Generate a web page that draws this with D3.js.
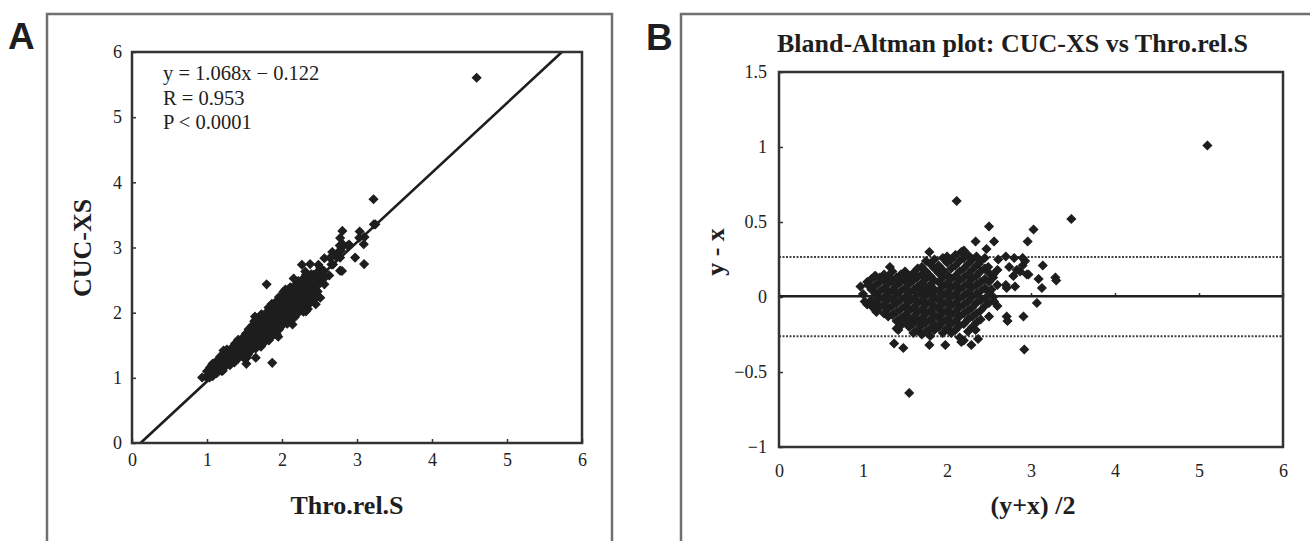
<!DOCTYPE html>
<html>
<head>
<meta charset="utf-8">
<script src="https://cdn.jsdelivr.net/npm/d3@7"></script>
<style>
    body { margin: 0; background: #fff; }
    svg { display: block; }
</style>
</head>
<body>
<div id="chart"></div>
<script>
// Bland-Altman data: [mean (y+x)/2, difference y-x]
// dense core, one column per mean value
const coreColumns = [
    [1.00, [0.02]],
    [1.05, [0.10, -0.05]],
    [1.10, [0.12, 0.05, -0.02, -0.06]],
    [1.15, [0.14, 0.08, 0.02, -0.04, -0.09]],
    [1.20, [0.13, 0.10, 0.04, -0.01, -0.07]],
    [1.25, [0.15, 0.12, 0.06, 0.00, -0.05, -0.11]],
    [1.30, [0.14, 0.09, 0.03, -0.02, -0.08, -0.13]],
    [1.35, [0.17, 0.11, 0.05, -0.01, -0.06, -0.12]],
    [1.40, [0.13, 0.08, 0.02, -0.04, -0.10, -0.16, -0.21]],
    [1.45, [0.15, 0.10, 0.04, -0.02, -0.08, -0.14, -0.19]],
    [1.50, [0.17, 0.12, 0.06, 0.00, -0.06, -0.12, -0.17]],
    [1.55, [0.14, 0.09, 0.03, -0.03, -0.09, -0.15, -0.20]],
    [1.60, [0.16, 0.11, 0.05, -0.01, -0.07, -0.13, -0.18, -0.24]],
    [1.65, [0.19, 0.13, 0.07, 0.02, -0.04, -0.10, -0.16, -0.22]],
    [1.70, [0.20, 0.15, 0.09, 0.04, -0.02, -0.08, -0.14, -0.19, -0.25]],
    [1.75, [0.24, 0.17, 0.12, 0.06, 0.01, -0.05, -0.11, -0.17, -0.23]],
    [1.80, [0.22, 0.14, 0.08, 0.03, -0.03, -0.09, -0.15, -0.21, -0.26]],
    [1.85, [0.25, 0.19, 0.11, 0.05, 0.00, -0.06, -0.12, -0.18, -0.22]],
    [1.90, [0.21, 0.16, 0.10, 0.04, -0.02, -0.08, -0.14, -0.20]],
    [1.95, [0.26, 0.18, 0.13, 0.07, 0.01, -0.05, -0.11, -0.17, -0.24]],
    [2.00, [0.27, 0.23, 0.15, 0.09, 0.03, -0.03, -0.09, -0.15, -0.21]],
    [2.05, [0.25, 0.19, 0.12, 0.06, 0.00, -0.06, -0.12, -0.18, -0.24]],
    [2.10, [0.28, 0.21, 0.14, 0.08, 0.02, -0.04, -0.10, -0.16, -0.22]],
    [2.15, [0.24, 0.17, 0.11, 0.05, -0.01, -0.07, -0.13, -0.19, -0.27]],
    [2.20, [0.31, 0.26, 0.19, 0.13, 0.07, 0.01, -0.05, -0.11, -0.18, -0.29]],
    [2.25, [0.28, 0.22, 0.15, 0.09, 0.03, -0.03, -0.09, -0.15, -0.23]],
    [2.30, [0.25, 0.18, 0.12, 0.06, 0.00, -0.07, -0.13, -0.20]],
    [2.35, [0.27, 0.21, 0.14, 0.08, 0.02, -0.04, -0.11, -0.17]],
    [2.40, [0.24, 0.17, 0.10, 0.04, -0.02, -0.09, -0.15]],
    [2.45, [0.26, 0.19, 0.12, 0.06, -0.01, -0.06]],
    [2.50, [0.16, 0.10, 0.03, -0.04]],
    [2.55, [0.13, 0.00]],
    [2.60, [0.18, 0.08, -0.06]]
];

// scattered points and outliers
const scatteredPoints = [
    [0.97, 0.07], [1.06, 0.08], [1.02, -0.03], [1.16, -0.10], [1.32, 0.20],
    [1.14, 0.14], [1.37, -0.31], [1.48, -0.34], [1.42, -0.22], [1.55, -0.64],
    [1.79, -0.32], [1.98, -0.32], [2.17, -0.30], [2.29, -0.32], [2.37, -0.28],
    [2.34, -0.22], [2.50, -0.13], [2.56, -0.03], [2.53, 0.05], [2.55, 0.15],
    [2.49, 0.20], [2.38, 0.22], [1.79, 0.30], [2.17, 0.30], [2.61, 0.25],
    [2.47, 0.32], [2.34, 0.37], [2.56, 0.37], [2.96, 0.37], [2.50, 0.47],
    [3.03, 0.45], [2.115, 0.64], [3.48, 0.52], [5.10, 1.01],
    [2.70, 0.27], [2.80, 0.26], [2.90, 0.26], [2.74, 0.20], [2.90, 0.21],
    [3.14, 0.21], [2.79, 0.14], [2.87, 0.17], [2.95, 0.15], [3.09, 0.12],
    [3.29, 0.13], [3.30, 0.11], [2.70, 0.08], [2.81, 0.07], [2.71, 0.06],
    [3.13, 0.06], [3.07, -0.04], [2.71, -0.13], [2.72, -0.16], [2.91, -0.13],
    [2.92, -0.35], [2.97, 0.15], [2.93, 0.24], [2.83, 0.18]
];

const xTicks = [0, 1, 2, 3, 4, 5, 6];
const yTicksA = [0, 1, 2, 3, 4, 5, 6];
const yTicksB = [-1, -0.5, 0, 0.5, 1, 1.5];
const yTickLabelsB = ["\u22121", "\u22120.5", "0", "0.5", "1", "1.5"];

const slope = 1.068, intercept = -0.122;
const annotation = ["y = 1.068x \u2212 0.122", "R = 0.953", "P < 0.0001"];
const meanDiff = 0.005;
const limitsOfAgreement = [0.267, -0.262];

const serif = "'Liberation Serif', 'Times New Roman', serif";
const sans = "'Liberation Sans', Arial, sans-serif";
const ink = "#1e1e1e";

let svg;

document.addEventListener('DOMContentLoaded', function () {
    svg = d3.select("#chart")
        .append("svg")
        .attr("width", 1310)
        .attr("height", 541);

    let baPoints = [];
    coreColumns.forEach(function (col) {
        col[1].forEach(d => baPoints.push([col[0], d]));
    });
    baPoints = baPoints.concat(scatteredPoints);

    drawScatter(baPoints);
    drawBlandAltman(baPoints);
});

function diamond(r) {
    return "M0," + (-r) + "L" + r + ",0L0," + r + "L" + (-r) + ",0Z";
}

function styleAxis(g) {
    g.attr("font-family", null).attr("font-size", null);
    g.select(".domain").remove();
    g.selectAll(".tick line").attr("stroke", "#333").attr("stroke-width", 1.5);
    g.selectAll(".tick text")
        .attr("fill", "#222")
        .attr("font-family", serif)
        .attr("font-size", 18);
}

function drawScatter(baPoints) {
    // panel frame
    svg.append("rect")
        .attr("x", 47).attr("y", 14)
        .attr("width", 565).attr("height", 600)
        .attr("fill", "none")
        .attr("stroke", "#707070")
        .attr("stroke-width", 2.5);

    svg.append("text")
        .attr("x", 8).attr("y", 49)
        .style("font-family", sans)
        .style("font-weight", "bold")
        .style("font-size", "37px")
        .attr("fill", ink)
        .text("A");

    const left = 132, right = 582, top = 52, bottom = 443;
    const x = d3.scaleLinear().domain([0, 6]).range([left, right]);
    const y = d3.scaleLinear().domain([0, 6]).range([bottom, top]);

    const g = svg.append("g");

    g.append("g")
        .attr("transform", `translate(0, ${bottom})`)
        .call(d3.axisBottom(x).tickValues(xTicks).tickFormat(d3.format("d"))
            .tickSizeInner(-4).tickSizeOuter(0).tickPadding(10))
        .call(styleAxis);

    g.append("g")
        .attr("transform", `translate(${left}, 0)`)
        .call(d3.axisLeft(y).tickValues(yTicksA).tickFormat(d3.format("d"))
            .tickSizeInner(-4).tickSizeOuter(0).tickPadding(10))
        .call(styleAxis);

    // Thro.rel.S = mean - diff/2, CUC-XS = mean + diff/2
    const pts = baPoints.map(p => [p[0] - p[1] / 2, p[0] + p[1] / 2]);

    g.selectAll("path.ptA")
        .data(pts)
        .join("path")
        .attr("class", "ptA")
        .attr("d", diamond(4.3))
        .attr("transform", d => "translate(" + x(d[0]) + "," + y(d[1]) + ")")
        .attr("fill", ink)
        .attr("stroke", ink)
        .attr("stroke-width", 1.1);

    const x0 = -intercept / slope, x1 = (6 - intercept) / slope;
    g.append("line")
        .attr("x1", x(x0)).attr("y1", y(0))
        .attr("x2", x(x1)).attr("y2", y(6))
        .attr("stroke", ink)
        .attr("stroke-width", 2.6);

    g.append("rect")
        .attr("x", left).attr("y", top)
        .attr("width", right - left).attr("height", bottom - top)
        .attr("fill", "none")
        .attr("stroke", "#333")
        .attr("stroke-width", 2.5);

    g.selectAll("text.note")
        .data(annotation)
        .join("text")
        .attr("class", "note")
        .attr("x", 163)
        .attr("y", (d, i) => 80 + i * 24.5)
        .style("font-family", serif)
        .style("font-size", "20.5px")
        .attr("fill", ink)
        .text(d => d);

    g.append("text")
        .attr("text-anchor", "middle")
        .attr("x", 347).attr("y", 514)
        .style("font-family", serif)
        .style("font-weight", "bold")
        .style("font-size", "26px")
        .attr("fill", ink)
        .text("Thro.rel.S");

    g.append("text")
        .attr("text-anchor", "middle")
        .attr("transform", "translate(91,248) rotate(-90)")
        .style("font-family", serif)
        .style("font-weight", "bold")
        .style("font-size", "26px")
        .attr("fill", ink)
        .text("CUC-XS");
}

function drawBlandAltman(baPoints) {
    svg.append("rect")
        .attr("x", 681).attr("y", 14)
        .attr("width", 700).attr("height", 600)
        .attr("fill", "none")
        .attr("stroke", "#707070")
        .attr("stroke-width", 2.5);

    svg.append("text")
        .attr("x", 646).attr("y", 50)
        .style("font-family", sans)
        .style("font-weight", "bold")
        .style("font-size", "37px")
        .attr("fill", ink)
        .text("B");

    const left = 779, right = 1283, top = 72, bottom = 447;
    const x = d3.scaleLinear().domain([0, 6]).range([left, right]);
    const y = d3.scaleLinear().domain([-1, 1.5]).range([bottom, top]);

    const g = svg.append("g");

    g.append("text")
        .attr("x", 777).attr("y", 52)
        .style("font-family", serif)
        .style("font-weight", "bold")
        .style("font-size", "26px")
        .attr("fill", ink)
        .text("Bland-Altman plot: CUC-XS vs Thro.rel.S");

    g.append("g")
        .attr("transform", `translate(0, ${bottom})`)
        .call(d3.axisBottom(x).tickValues(xTicks).tickFormat(d3.format("d"))
            .tickSize(0).tickPadding(17))
        .call(styleAxis);

    g.append("g")
        .attr("transform", `translate(${left}, 0)`)
        .call(d3.axisLeft(y).tickValues(yTicksB)
            .tickFormat((d, i) => yTickLabelsB[i])
            .tickSizeInner(-4).tickSizeOuter(0).tickPadding(12))
        .call(styleAxis);

    // limits of agreement
    g.selectAll("line.loa")
        .data(limitsOfAgreement)
        .join("line")
        .attr("class", "loa")
        .attr("x1", left).attr("x2", right)
        .attr("y1", d => y(d)).attr("y2", d => y(d))
        .attr("stroke", "#444")
        .attr("stroke-width", 2)
        .attr("stroke-dasharray", "2,1.5");

    // ticks sitting on the zero line
    g.append("g")
        .attr("transform", `translate(0, ${y(0)})`)
        .call(d3.axisBottom(x).tickValues(xTicks).tickSizeInner(-4).tickSizeOuter(0).tickFormat(""))
        .call(styleAxis);

    g.selectAll("path.ptB")
        .data(baPoints)
        .join("path")
        .attr("class", "ptB")
        .attr("d", diamond(4.3))
        .attr("transform", d => "translate(" + x(d[0]) + "," + y(d[1]) + ")")
        .attr("fill", ink)
        .attr("stroke", ink)
        .attr("stroke-width", 1.1);

    g.append("line")
        .attr("x1", left).attr("x2", right)
        .attr("y1", y(meanDiff)).attr("y2", y(meanDiff))
        .attr("stroke", ink)
        .attr("stroke-width", 2.5);

    g.append("rect")
        .attr("x", left).attr("y", top)
        .attr("width", right - left).attr("height", bottom - top)
        .attr("fill", "none")
        .attr("stroke", "#333")
        .attr("stroke-width", 2.5);

    g.append("text")
        .attr("text-anchor", "middle")
        .attr("x", 1033).attr("y", 514)
        .style("font-family", serif)
        .style("font-weight", "bold")
        .style("font-size", "26px")
        .attr("fill", ink)
        .text("(y+x) /2");

    g.append("text")
        .attr("text-anchor", "middle")
        .attr("transform", "translate(724,252) rotate(-90)")
        .style("font-family", serif)
        .style("font-weight", "bold")
        .style("font-size", "26px")
        .attr("fill", ink)
        .text("y - x");
}
</script>
</body>
</html>
